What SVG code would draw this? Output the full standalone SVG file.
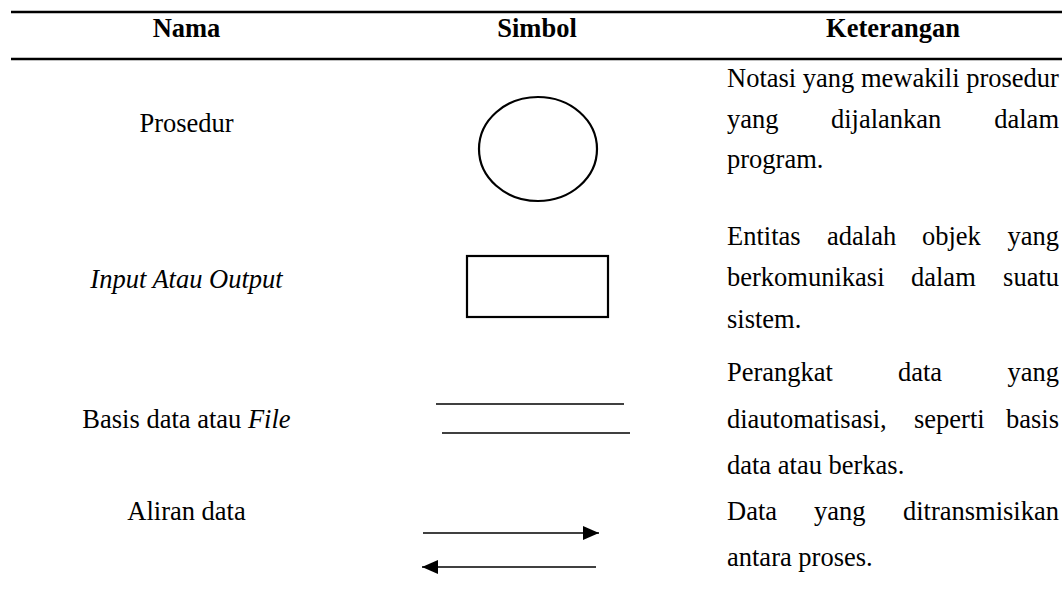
<svg xmlns="http://www.w3.org/2000/svg" width="1062" height="612" viewBox="0 0 1062 612">
  <style>
    text { font-family: "Liberation Serif", "Times New Roman", serif; font-size: 26.5px; fill: #000; }
    .head { font-weight: bold; text-anchor: middle; }
    .name { text-anchor: middle; }
    .it { font-style: italic; }
    .end { text-anchor: end; }
    .rule { stroke: #000; stroke-width: 2.3; fill: none; }
    .sym { stroke: #000; stroke-width: 2.2; fill: none; }
    .thin { stroke: #000; stroke-width: 1.4; fill: none; }
  </style>
  <defs>
    <marker id="head" viewBox="0 0 16 14" refX="16" refY="7" markerWidth="16" markerHeight="14" markerUnits="userSpaceOnUse" orient="auto">
      <path d="M0,0 L16,7 L0,14 Z" fill="#000"/>
    </marker>
  </defs>

  <rect width="1062" height="612" fill="#fff"/>

  <!-- table header -->
  <g id="header">
    <line class="rule" x1="11" y1="12" x2="1062" y2="12"/>
    <text class="head" x="186.5" y="37">Nama</text>
    <text class="head" x="537" y="37">Simbol</text>
    <text class="head" x="893" y="37">Keterangan</text>
    <line class="rule" x1="11" y1="59" x2="1062" y2="59"/>
  </g>

  <!-- row: Prosedur -->
  <g id="row-prosedur">
    <text class="name" x="186.5" y="132">Prosedur</text>
    <ellipse class="sym" cx="538" cy="149" rx="59" ry="52"/>
    <text x="727" y="87">Notasi yang mewakili prosedur</text>
    <text y="128"><tspan x="727">yang</tspan><tspan x="831">dijalankan</tspan><tspan class="end" x="1059">dalam</tspan></text>
    <text x="727" y="168">program.</text>
  </g>

  <!-- row: Input Atau Output -->
  <g id="row-io">
    <text class="name it" x="186.5" y="288">Input Atau Output</text>
    <rect class="sym" x="467" y="256" width="141" height="61"/>
    <text y="245"><tspan x="727">Entitas</tspan><tspan x="827">adalah</tspan><tspan x="922">objek</tspan><tspan class="end" x="1059">yang</tspan></text>
    <text y="286"><tspan x="727">berkomunikasi</tspan><tspan x="911">dalam</tspan><tspan class="end" x="1059">suatu</tspan></text>
    <text x="727" y="328">sistem.</text>
  </g>

  <!-- row: Basis data atau File -->
  <g id="row-datastore">
    <text class="name" x="186.5" y="428">Basis data atau <tspan class="it">File</tspan></text>
    <line class="thin" x1="436" y1="404" x2="624" y2="404"/>
    <line class="thin" x1="442" y1="433" x2="630" y2="433"/>
    <text y="381"><tspan x="727">Perangkat</tspan><tspan x="898">data</tspan><tspan class="end" x="1059">yang</tspan></text>
    <text y="428"><tspan x="727">diautomatisasi,</tspan><tspan x="914">seperti</tspan><tspan class="end" x="1059">basis</tspan></text>
    <text x="727" y="474">data atau berkas.</text>
  </g>

  <!-- row: Aliran data -->
  <g id="row-flow">
    <text class="name" x="186.5" y="520">Aliran data</text>
    <text y="520"><tspan x="727">Data</tspan><tspan x="814">yang</tspan><tspan class="end" x="1059">ditransmisikan</tspan></text>
    <text x="727" y="566">antara proses.</text>
  </g>

  <!-- data flow arrows -->
  <g id="connectors">
    <line class="thin" x1="423" y1="533" x2="599" y2="533" marker-end="url(#head)"/>
    <line class="thin" x1="596" y1="567" x2="422" y2="567" marker-end="url(#head)"/>
  </g>
</svg>
